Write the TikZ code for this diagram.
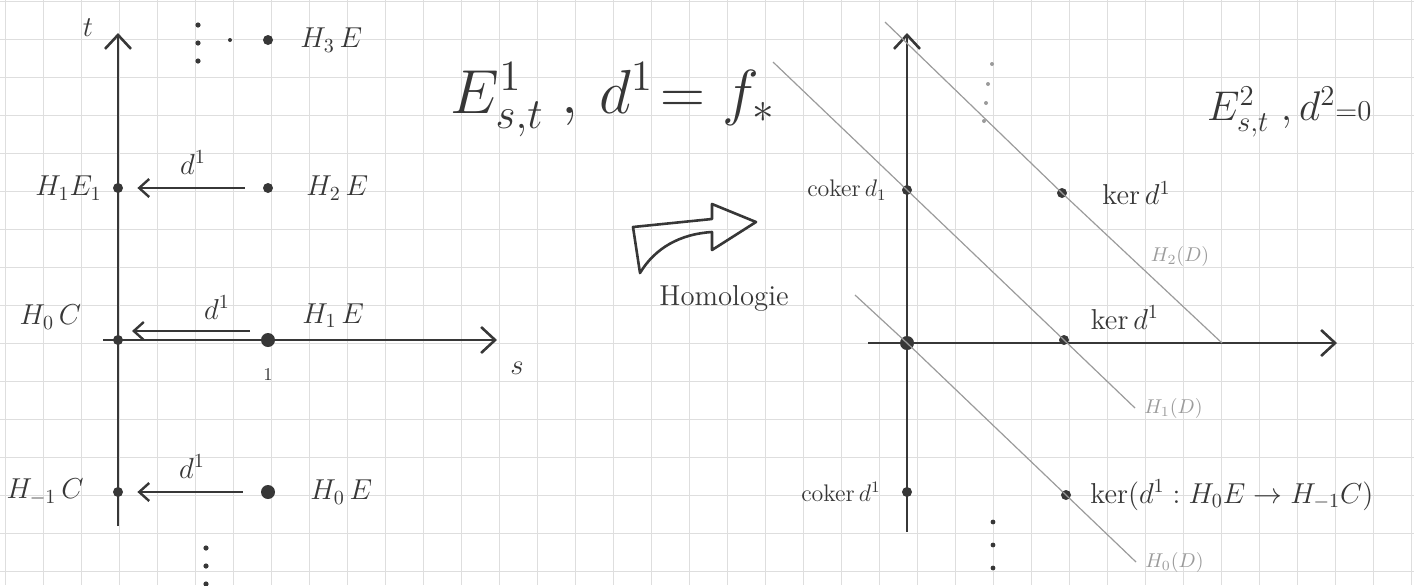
\documentclass[tikz,border=0pt]{standalone}
\usetikzlibrary{positioning, arrows.meta}

\tikzset{
  ink/.style={draw=inkcolor, line width=1.3pt, line join=round},
  axisline/.style={inkcolor, line width=1.3pt, -{Straight Barb[length=7pt,width=13pt]}},
  diffarrow/.style={inkcolor, line width=1.2pt, -{Straight Barb[length=5pt,width=9pt]}, shorten >=7pt, shorten <=9pt},
  dot/.style={circle, fill=inkcolor, inner sep=0pt, minimum size=5pt},
  bigdot/.style={dot, minimum size=7pt},
  lbl/.style={text=inkcolor, font=\Large},
  penline/.style={draw=pencolor, line width=0.6pt},
  pencil/.style={text=pencolor, font=\normalsize},
}

\begin{document}
\begin{tikzpicture}[x=0.5pt, y=-0.5pt]

		% Colors
		\definecolor{gridcolor}{RGB}{222,222,222}
		\definecolor{inkcolor}{RGB}{55,55,55}
		\definecolor{pencolor}{RGB}{155,155,155}

		% Paper
		\useasboundingbox (0,0) rectangle (1414,585);
		\foreach \gx in {5,43,...,1414} \draw[gridcolor, line width=0.5pt] (\gx,0) -- (\gx,585);
		\foreach \gy in {1,39,...,585} \draw[gridcolor, line width=0.5pt] (0,\gy) -- (1414,\gy);

		% Left chart: axes
		\coordinate (ltop) at (118,33);
		\coordinate (lbot) at (118,526);
		\coordinate (lleft) at (103,340);
		\coordinate (lright) at (497,340);
		\draw[axisline] (lbot) -- (ltop);
		\draw[axisline] (lleft) -- (lright);
		\node (tlbl) [lbl] at (88,28) {$t$};
		\node (slbl) [lbl] at (517,368) {$s$};

		% Left chart: entries
		\node (h1e1) [dot] at (118,188) {};
		\node (h0c) [dot] at (118,340) {};
		\node (hm1c) [dot] at (118,492) {};
		\node (h3e) [dot] at (268,40) {};
		\node (h2e) [dot] at (268,188) {};
		\node (h1e) [bigdot] at (268,340) {};
		\node (h0e) [bigdot] at (268,492) {};

		\node (h3elbl) [lbl, right=10pt of h3e] {$H_3\,E$};
		\node (h2elbl) [lbl, right=13pt of h2e] {$H_2\,E$};
		\node (h1elbl) [lbl, above right=0pt and 11pt of h1e] {$H_1\,E$};
		\node (h0elbl) [lbl, right=14pt of h0e] {$H_0\,E$};
		\node (h1e1lbl) [lbl, left=2pt of h1e1] {$H_1E_1$};
		\node (h0clbl) [lbl, above left=0pt and 13pt of h0c] {$H_0\,C$};
		\node (hm1clbl) [lbl, left=11pt of hm1c] {$H_{-1}\,C$};
		\node (onelbl) [text=inkcolor, font=\small, below=7pt of h1e] {1};

		% Left chart: dots
		\fill[inkcolor] (230,40) circle (1pt);
		\foreach \dy in {25,43,61} \fill[inkcolor] (198,\dy) circle (1.3pt);
		\foreach \dy in {548,566,584} \fill[inkcolor] (206,\dy) circle (1.3pt);

		% Left chart: differentials
		\draw[diffarrow] (h2e) -- (h1e1) node[midway, above=3pt, text=inkcolor, font=\Large] {$d^1$};
		\draw[diffarrow] ([yshift=4.5pt]h1e.center) -- ([yshift=4.5pt]h0c.center) node[midway, above=2pt, xshift=12pt, text=inkcolor, font=\Large] {$d^1$};
		\draw[diffarrow] (h0e) -- (hm1c) node[midway, above=3pt, text=inkcolor, font=\Large] {$d^1$};

		% Titles
		\node (title1) [anchor=west, text=inkcolor, font=\huge, scale=1.5] at (440,100) {$E^1_{s,t}\;,\,d^1\!=f_*$};
		\node (title2) [anchor=west, text=inkcolor, font=\huge] at (1200,112) {$E^2_{s,t}\;,d^2{\scriptstyle=0}$};

		% Homology arrow
		\draw[ink] (712,232) -- (712,250) -- (756,222) -- (712,204) -- (712,219) -- (633,227) -- (640,273) .. controls (655,248) and (680,234) .. (712,232) -- cycle;
		\node (homlbl) [lbl] at (724,298) {Homologie};

		% Right chart: axes
		\coordinate (rtop) at (907,33);
		\coordinate (rbot) at (907,532);
		\coordinate (rleft) at (868,343);
		\coordinate (rright) at (1337,343);
		\draw[axisline] (rbot) -- (rtop);
		\draw[axisline] (rleft) -- (rright);

		% Right chart: entries
		\node (cok1) [dot] at (907,190) {};
		\node (orig) [bigdot] at (907,343) {};
		\node (cokm) [dot] at (907,492) {};
		\node (ker1) [dot] at (1062,193) {};
		\node (ker0) [dot] at (1064,340) {};
		\node (kerm) [dot] at (1066,495) {};

		% Right chart: total degree lines
		\draw[penline] (885,22) -- (ker1.center) -- (1222,343);
		\draw[penline] (773,62) -- (cok1.center) -- (ker0.center) -- (1135,408) node (h1dlbl) [pencil, right=1pt] {$H_1(D)$};
		\draw[penline] (855,295) -- (orig.center) -- (kerm.center) -- (1136,562) node (h0dlbl) [pencil, right=1pt] {$H_0(D)$};
		\node (h2dlbl) [pencil] at (1180,256) {$H_2(D)$};

		\node (cok1lbl) [lbl, font=\large, left=4pt of cok1] {$\mathrm{coker}\,d_1$};
		\node (cokmlbl) [lbl, font=\large, left=7pt of cokm] {$\mathrm{coker}\,d^1$};
		\node (ker1lbl) [lbl, right=14pt of ker1] {$\mathrm{ker}\,d^1$};
		\node (ker0lbl) [lbl, above right=0pt and 8pt of ker0] {$\mathrm{ker}\,d^1$};
		\node (kermlbl) [lbl, right=6pt of kerm] {$\mathrm{ker}\bigl(d^1 : H_0E \to H_{-1}C\bigr)$};

		% Right chart: dots
		\foreach \dx/\dy in {992/64, 988/84, 986/103, 984/121} \fill[pencolor] (\dx,\dy) circle (1pt);
		\foreach \dy in {522,545,568} \fill[inkcolor] (993,\dy) circle (1.2pt);

	\end{tikzpicture}
\end{document}
